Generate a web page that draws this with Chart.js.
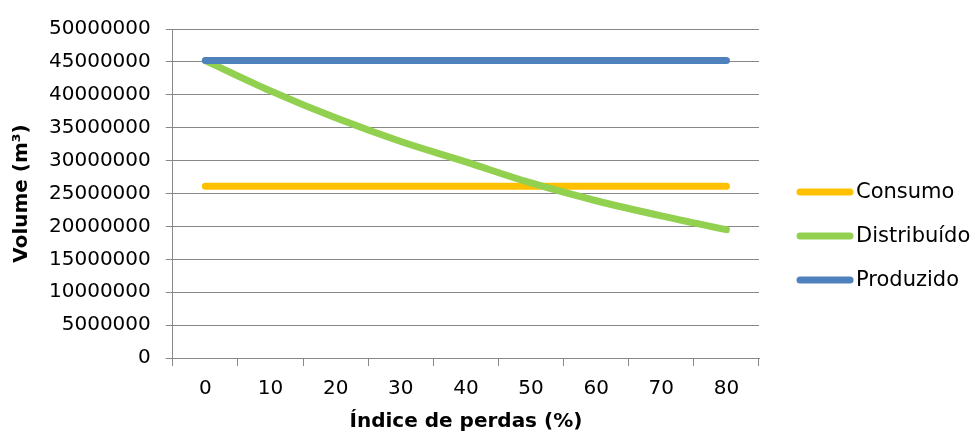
<!DOCTYPE html>
<html>
<head>
<meta charset="utf-8">
<script src="https://cdn.jsdelivr.net/npm/chart.js@4.4.1/dist/chart.umd.min.js"></script>
<style>
  html, body { margin: 0; padding: 0; background: #fff; }
  #wrap { width: 977px; height: 437px; position: relative; }
</style>
</head>
<body>
<div id="wrap"><canvas id="c" width="977" height="437"></canvas></div>
<script>
const categories = ['0', '10', '20', '30', '40', '50', '60', '70', '80'];
const consumo = [26100000, 26100000, 26100000, 26100000, 26100000, 26100000, 26100000, 26100000, 26100000];
const distribuido = [45200000, 40600000, 36500000, 32900000, 29800000, 26600000, 23900000, 21600000, 19500000];
const produzido = [45200000, 45200000, 45200000, 45200000, 45200000, 45200000, 45200000, 45200000, 45200000];
const seriesNames = ['Consumo', 'Distribuído', 'Produzido'];
const xTitle = 'Índice de perdas (%)';
const yTitle = 'Volume (m³)';

const FONT = '"DejaVu Sans", sans-serif';
const LINE_W = 7;

const legendPlugin = {
  id: 'customLegend',
  afterDraw(chart) {
    const ctx = chart.ctx;
    const ca = chart.chartArea;
    const x0 = ca.right + 38;
    const len = 56;
    const y0 = 192;
    const step = 44;
    ctx.save();
    chart.data.datasets.forEach((ds, i) => {
      const y = y0 + i * step;
      ctx.beginPath();
      ctx.strokeStyle = ds.borderColor;
      ctx.lineWidth = LINE_W;
      ctx.lineCap = 'round';
      ctx.moveTo(x0 + 3, y);
      ctx.lineTo(x0 + len - 3, y);
      ctx.stroke();
      ctx.fillStyle = '#000';
      ctx.font = '21px ' + FONT;
      ctx.textBaseline = 'middle';
      ctx.textAlign = 'left';
      ctx.fillText(ds.label, x0 + len + 3, y + 1);
    });
    ctx.restore();
  }
};

new Chart(document.getElementById('c'), {
  type: 'line',
  data: {
    labels: categories,
    datasets: [
      { label: seriesNames[0], data: consumo, borderColor: '#FFC000', backgroundColor: '#FFC000', order: 3 },
      { label: seriesNames[1], data: distribuido, borderColor: '#92D050', backgroundColor: '#92D050', order: 2, cubicInterpolationMode: 'monotone' },
      { label: seriesNames[2], data: produzido, borderColor: '#4F81BD', backgroundColor: '#4F81BD', order: 1 }
    ]
  },
  options: {
    responsive: false,
    animation: false,
    devicePixelRatio: 1,
    layout: { padding: { left: 0, right: 218, top: 29, bottom: 0 } },
    elements: {
      line: { borderWidth: LINE_W, borderCapStyle: 'round', borderJoinStyle: 'round', fill: false },
      point: { radius: 0, hoverRadius: 0 }
    },
    plugins: {
      legend: { display: false },
      tooltip: { enabled: false }
    },
    scales: {
      x: {
        type: 'category',
        offset: true,
        grid: { display: true, offset: true, drawOnChartArea: false, drawTicks: true, tickLength: 8, color: '#888888', lineWidth: 1 },
        border: { display: true, color: '#888888', width: 1 },
        ticks: { color: '#000', font: { family: FONT, size: 20, lineHeight: 1.0 }, padding: 13, maxRotation: 0, autoSkip: false },
        title: { display: true, text: xTitle, color: '#000', font: { family: FONT, size: 20, weight: 'bold', lineHeight: 1.0 }, padding: { top: 0, bottom: 5 } }
      },
      y: {
        min: 0,
        max: 50000000,
        grid: { display: true, drawOnChartArea: true, drawTicks: true, tickLength: 7, color: '#888888', lineWidth: 1 },
        border: { display: true, color: '#888888', width: 1 },
        ticks: { stepSize: 5000000, color: '#000', font: { family: FONT, size: 20 }, padding: 15, callback: v => String(v) },
        title: { display: true, text: yTitle, color: '#000', font: { family: FONT, size: 20, weight: 'bold' }, padding: { top: 10, bottom: 0 } }
      }
    }
  },
  plugins: [legendPlugin]
});
</script>
</body>
</html>
